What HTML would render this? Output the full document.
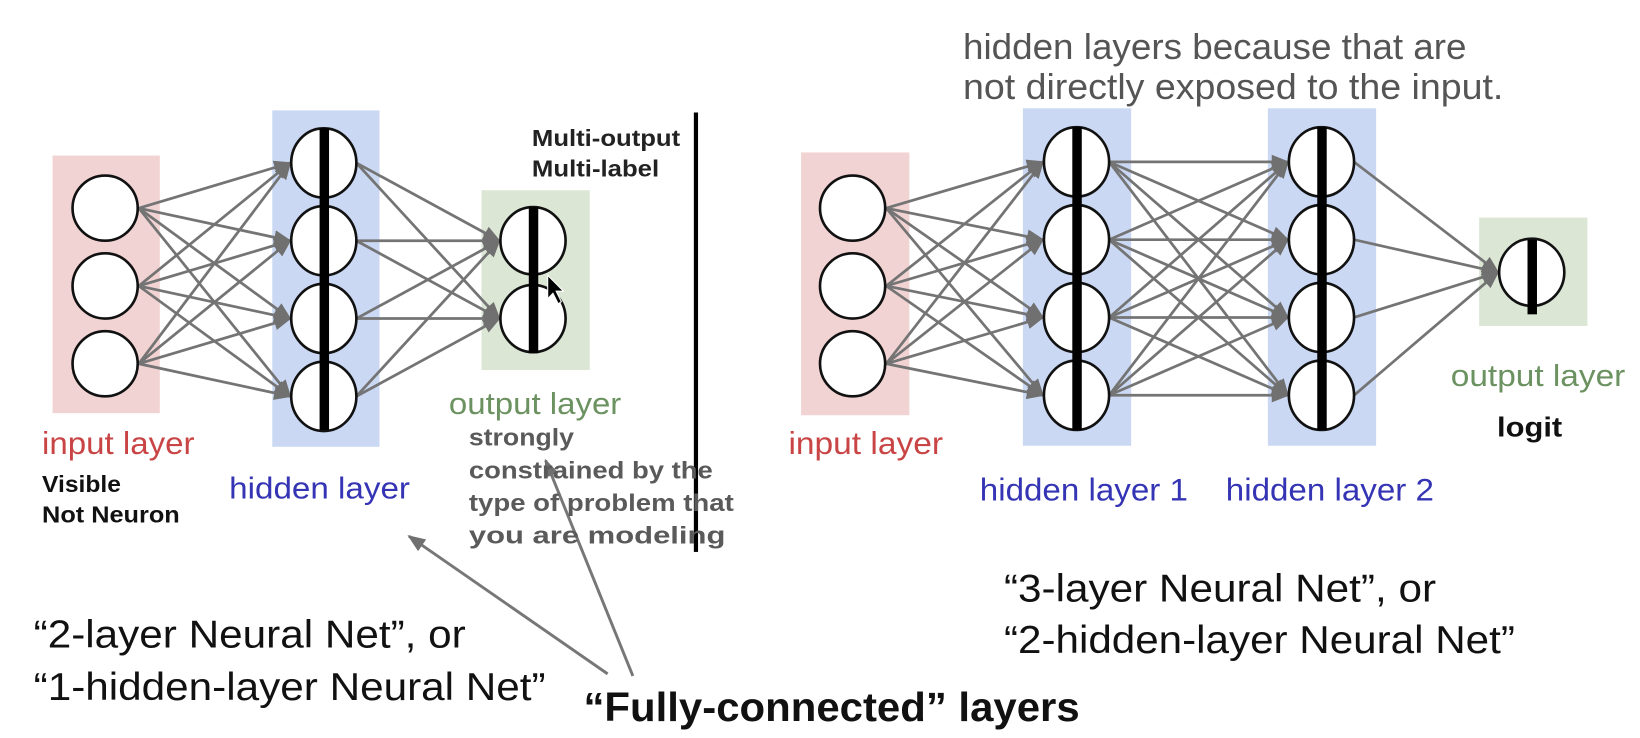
<!DOCTYPE html>
<html><head><meta charset="utf-8"><style>
html,body{margin:0;padding:0;background:#fff;}
svg{display:block;}
text{font-family:"Liberation Sans",sans-serif;}
</style></head><body>
<svg width="1640" height="738" viewBox="0 0 1560 702" xmlns="http://www.w3.org/2000/svg">
<defs>
<marker id="b" viewBox="0 0 10 10" refX="9" refY="5" markerWidth="17" markerHeight="17" orient="auto" markerUnits="userSpaceOnUse">
<path d="M0,1 L10,5 L0,9 z" fill="#707070"/></marker>
</defs>
<rect x="0" y="0" width="1560" height="702" fill="#fff"/>
<rect x="50" y="148" width="102" height="245" fill="#f2d3d3"/>
<rect x="259" y="105" width="102" height="320" fill="#cad8f3"/>
<rect x="458" y="181" width="103" height="171" fill="#dbe6d5"/>
<rect x="762" y="145" width="103" height="250" fill="#f2d3d3"/>
<rect x="973" y="103" width="103" height="321" fill="#cad8f3"/>
<rect x="1206" y="103" width="103" height="321" fill="#cad8f3"/>
<rect x="1407" y="207" width="103" height="103" fill="#dbe6d5"/>

<g stroke="#747474" stroke-width="2.6" marker-end="url(#b)" fill="none">
<line x1="132" y1="198" x2="276" y2="155"/><line x1="132" y1="198" x2="276" y2="229"/><line x1="132" y1="198" x2="276" y2="303"/><line x1="132" y1="198" x2="276" y2="377"/>
<line x1="132" y1="272" x2="276" y2="155"/><line x1="132" y1="272" x2="276" y2="229"/><line x1="132" y1="272" x2="276" y2="303"/><line x1="132" y1="272" x2="276" y2="377"/>
<line x1="132" y1="346" x2="276" y2="155"/><line x1="132" y1="346" x2="276" y2="229"/><line x1="132" y1="346" x2="276" y2="303"/><line x1="132" y1="346" x2="276" y2="377"/>
<line x1="339" y1="155" x2="475" y2="229"/><line x1="339" y1="155" x2="475" y2="303"/>
<line x1="339" y1="229" x2="475" y2="229"/><line x1="339" y1="229" x2="475" y2="303"/>
<line x1="339" y1="303" x2="475" y2="229"/><line x1="339" y1="303" x2="475" y2="303"/>
<line x1="339" y1="377" x2="475" y2="229"/><line x1="339" y1="377" x2="475" y2="303"/>
<line x1="843" y1="198" x2="992" y2="154"/><line x1="843" y1="198" x2="992" y2="228"/><line x1="843" y1="198" x2="992" y2="302"/><line x1="843" y1="198" x2="992" y2="376"/>
<line x1="843" y1="272" x2="992" y2="154"/><line x1="843" y1="272" x2="992" y2="228"/><line x1="843" y1="272" x2="992" y2="302"/><line x1="843" y1="272" x2="992" y2="376"/>
<line x1="843" y1="346" x2="992" y2="154"/><line x1="843" y1="346" x2="992" y2="228"/><line x1="843" y1="346" x2="992" y2="302"/><line x1="843" y1="346" x2="992" y2="376"/>
<line x1="1055" y1="154" x2="1225" y2="154"/><line x1="1055" y1="154" x2="1225" y2="228"/><line x1="1055" y1="154" x2="1225" y2="302"/><line x1="1055" y1="154" x2="1225" y2="376"/>
<line x1="1055" y1="228" x2="1225" y2="154"/><line x1="1055" y1="228" x2="1225" y2="228"/><line x1="1055" y1="228" x2="1225" y2="302"/><line x1="1055" y1="228" x2="1225" y2="376"/>
<line x1="1055" y1="302" x2="1225" y2="154"/><line x1="1055" y1="302" x2="1225" y2="228"/><line x1="1055" y1="302" x2="1225" y2="302"/><line x1="1055" y1="302" x2="1225" y2="376"/>
<line x1="1055" y1="376" x2="1225" y2="154"/><line x1="1055" y1="376" x2="1225" y2="228"/><line x1="1055" y1="376" x2="1225" y2="302"/><line x1="1055" y1="376" x2="1225" y2="376"/>
<line x1="1288" y1="154" x2="1425" y2="259"/><line x1="1288" y1="228" x2="1425" y2="259"/><line x1="1288" y1="302" x2="1425" y2="259"/><line x1="1288" y1="376" x2="1425" y2="259"/>
</g>

<g fill="#fff" stroke="#111" stroke-width="2.5">
<circle cx="100" cy="198" r="31"/><circle cx="100" cy="272" r="31"/><circle cx="100" cy="346" r="31"/>
<ellipse cx="308" cy="155" rx="31" ry="33"/><ellipse cx="308" cy="229" rx="31" ry="33"/><ellipse cx="308" cy="303" rx="31" ry="33"/><ellipse cx="308" cy="377" rx="31" ry="33"/>
<ellipse cx="507" cy="229" rx="31" ry="32"/><ellipse cx="507" cy="303" rx="31" ry="32"/>
<circle cx="811" cy="198" r="31"/><circle cx="811" cy="272" r="31"/><circle cx="811" cy="346" r="31"/>
<ellipse cx="1024" cy="154" rx="31" ry="33"/><ellipse cx="1024" cy="228" rx="31" ry="33"/><ellipse cx="1024" cy="302" rx="31" ry="33"/><ellipse cx="1024" cy="376" rx="31" ry="33"/>
<ellipse cx="1257" cy="154" rx="31" ry="33"/><ellipse cx="1257" cy="228" rx="31" ry="33"/><ellipse cx="1257" cy="302" rx="31" ry="33"/><ellipse cx="1257" cy="376" rx="31" ry="33"/>
<ellipse cx="1457" cy="259" rx="31" ry="32"/>
</g>
<g fill="#000">
<rect x="304" y="122" width="9" height="287"/>
<rect x="503" y="197" width="9" height="139"/>
<rect x="1020" y="121" width="9" height="288"/>
<rect x="1253" y="121" width="9" height="288"/>
<rect x="1453" y="228" width="9" height="71"/>
<rect x="660" y="107" width="4" height="418"/>
<path d="M521,262 L521,284 L526,279 L531,289 L534,287 L529,277 L536,277 z" stroke="#fff" stroke-width="1"/>
</g>

<g stroke="#777" stroke-width="2.8" marker-end="url(#b)">
<line x1="578" y1="641" x2="389" y2="510"/>
<line x1="602" y1="643" x2="519" y2="438"/>
</g>

<text x="916" y="56" font-size="34" fill="#555" textLength="479" lengthAdjust="spacingAndGlyphs">hidden layers because that are</text>
<text x="916" y="94" font-size="34" fill="#555" textLength="514" lengthAdjust="spacingAndGlyphs">not directly exposed to the input.</text>
<text x="506" y="139" font-size="22" font-weight="bold" fill="#222" textLength="141" lengthAdjust="spacingAndGlyphs">Multi-output</text>
<text x="506" y="168" font-size="22" font-weight="bold" fill="#222" textLength="121" lengthAdjust="spacingAndGlyphs">Multi-label</text>
<text x="427" y="394" font-size="29" fill="#6b9260" textLength="164" lengthAdjust="spacingAndGlyphs">output layer</text>
<text x="40" y="432" font-size="30" fill="#c94545" textLength="145" lengthAdjust="spacingAndGlyphs">input layer</text>
<text x="40" y="468" font-size="22" font-weight="bold" fill="#111" textLength="75" lengthAdjust="spacingAndGlyphs">Visible</text>
<text x="40" y="497" font-size="22" font-weight="bold" fill="#111" textLength="131" lengthAdjust="spacingAndGlyphs">Not Neuron</text>
<text x="218" y="474" font-size="29" fill="#3434b4" textLength="172" lengthAdjust="spacingAndGlyphs">hidden layer</text>
<g font-size="23" font-weight="bold" fill="#5a5a5a">
<text x="446" y="424" textLength="100" lengthAdjust="spacingAndGlyphs">strongly</text>
<text x="446" y="455" textLength="232" lengthAdjust="spacingAndGlyphs">constrained by the</text>
<text x="446" y="486" textLength="252" lengthAdjust="spacingAndGlyphs">type of problem that</text>
<text x="446" y="517" textLength="244" lengthAdjust="spacingAndGlyphs">you are modeling</text>
</g>
<text x="32" y="616" font-size="37" fill="#111" textLength="411" lengthAdjust="spacingAndGlyphs">“2-layer Neural Net”, or</text>
<text x="32" y="666" font-size="37" fill="#111" textLength="487" lengthAdjust="spacingAndGlyphs">“1-hidden-layer Neural Net”</text>
<text x="555" y="686" font-size="39" font-weight="bold" fill="#111" textLength="472" lengthAdjust="spacingAndGlyphs">“Fully-connected” layers</text>
<text x="750" y="432" font-size="30" fill="#c94545" textLength="147" lengthAdjust="spacingAndGlyphs">input layer</text>
<text x="932" y="476" font-size="30" fill="#3434b4" textLength="198" lengthAdjust="spacingAndGlyphs">hidden layer 1</text>
<text x="1166" y="476" font-size="30" fill="#3434b4" textLength="198" lengthAdjust="spacingAndGlyphs">hidden layer 2</text>
<text x="1380" y="367" font-size="29" fill="#6b9260" textLength="166" lengthAdjust="spacingAndGlyphs">output layer</text>
<text x="1424" y="415" font-size="26" font-weight="bold" fill="#111" textLength="62" lengthAdjust="spacingAndGlyphs">logit</text>
<text x="955" y="572" font-size="37" fill="#111" textLength="411" lengthAdjust="spacingAndGlyphs">“3-layer Neural Net”, or</text>
<text x="955" y="621" font-size="37" fill="#111" textLength="486" lengthAdjust="spacingAndGlyphs">“2-hidden-layer Neural Net”</text>
</svg>
</body></html>
